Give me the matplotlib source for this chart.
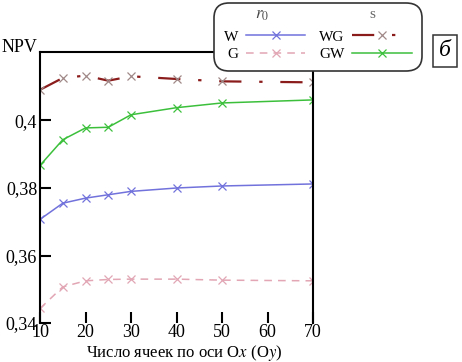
import numpy as np
import matplotlib
matplotlib.use('Agg')
import matplotlib.pyplot as plt

plt.rcParams['font.family'] = ['Liberation Serif', 'DejaVu Serif']
plt.rcParams['mathtext.fontset'] = 'stix'

# cells along Ox (Oy)
cells = [10, 15, 20, 25, 30, 40, 50, 70]
npv_w = [0.3707, 0.3755, 0.3770, 0.3780, 0.3790, 0.3800, 0.3806, 0.3812]
npv_g = [0.3443, 0.3507, 0.3525, 0.3529, 0.3530, 0.3530, 0.3527, 0.3525]
npv_wg = [0.4091, 0.4126, 0.4133, 0.4118, 0.4131, 0.4123, 0.4116, 0.4113]
npv_gw = [0.3867, 0.3943, 0.3978, 0.3980, 0.4017, 0.4038, 0.4052, 0.4061]

yticks = [0.34, 0.36, 0.38, 0.40]
ytick_labels = ['0,34', '0,36', '0,38', '0,4']
xticks = [10, 20, 30, 40, 50, 60, 70]

fig = plt.figure(figsize=(4.62, 3.62), dpi=100)
ax = fig.add_axes([0.0866, 0.1077, 0.5909, 0.7487])

ax.plot(cells, npv_w, color='#7272dc', lw=1.1, marker='x', ms=6, mew=0.9, label='W')
ax.plot(cells, npv_g, color='#e2a6b4', lw=1.1, ls=(0, (5, 4)), marker='x', ms=6, mew=0.9, label='G')
ax.plot(cells, npv_wg, color='#8b1c1c', lw=1.6, ls=(0, (10, 8, 1.5, 8)), marker='x', ms=6, mew=0.9,
        mec='#a08888', label='WG')
ax.plot(cells, npv_gw, color='#3cc03c', lw=1.1, marker='x', ms=6, mew=0.9, label='GW')

ax.set_xlim(10, 70)
ax.set_ylim(0.34, 0.4203)
ax.set_xticks(xticks)
ax.set_yticks(yticks)
ax.set_yticklabels(ytick_labels)
ax.tick_params(direction='in', length=8, width=1.5, labelsize=13)
ax.tick_params(axis='x', pad=1)
ax.tick_params(axis='y', pad=2)
for side in ['left', 'right', 'top']:
    ax.spines[side].set_linewidth(1.5)
ax.spines['bottom'].set_visible(False)

fig.text(184 / 462, 1 - 353 / 362, 'Число ячеек по оси O$x$ (O$y$)', fontsize=12,
         ha='center', va='center')
fig.text(0.042, 0.868, 'NPV', fontsize=13, ha='center', va='center')

leg = fig.legend(loc='upper left', bbox_to_anchor=(0.453, 1.004), ncol=2, fontsize=11,
                 frameon=True, fancybox=True, edgecolor='#333333', framealpha=1,
                 handlelength=3.9, handletextpad=0.5, columnspacing=0.9, borderpad=0.45,
                 labelspacing=0.25, markerfirst=False, title=' ', title_fontsize=11)
leg.get_frame().set_linewidth(1.2)
leg.get_frame().set_boxstyle('round', pad=0.2, rounding_size=1.0)

fig.text(262 / 462, 1 - 15 / 362, '$r_0$', fontsize=12, ha='center', va='center',
         color='#444444', zorder=6)
fig.text(372 / 462, 1 - 14 / 362, 's', fontsize=11, ha='center', va='center',
         color='#666666', zorder=6)

fig.text(445 / 462, 1 - 51 / 362, 'б', fontsize=17, style='italic', ha='center', va='center',
         zorder=7, bbox=dict(boxstyle='square,pad=0.25', fc='white', ec='#333333', lw=1.1))

fig.savefig('out.png', dpi=100)
